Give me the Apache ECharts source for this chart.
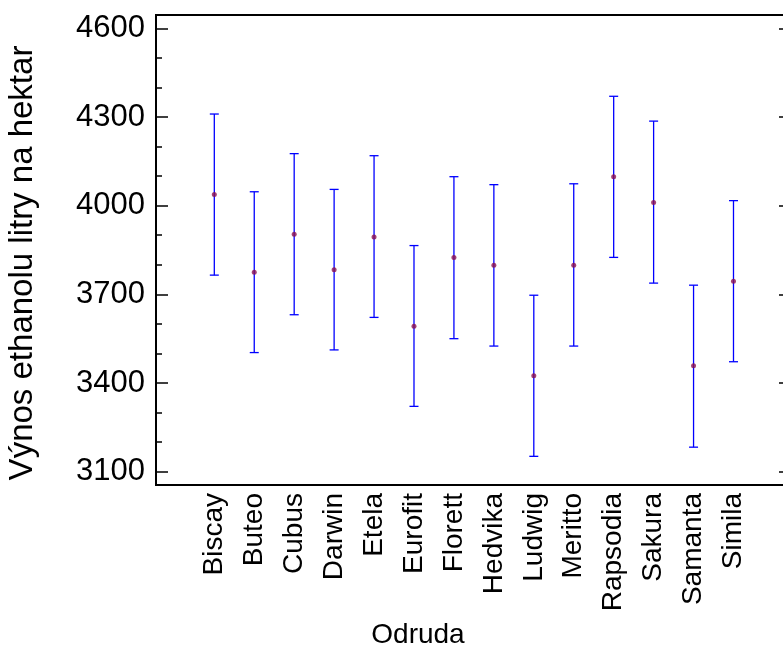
<!DOCTYPE html>
<html><head><meta charset="utf-8">
<script src="https://cdn.jsdelivr.net/npm/echarts@6/dist/echarts.min.js"></script>
<style>html,body{margin:0;padding:0;background:#fff}#c{width:783px;height:648px}</style>
</head><body><div id="c"></div>
<script>
const categories = ['Biscay','Buteo','Cubus','Darwin','Etela','Eurofit','Florett','Hedvika','Ludwig','Meritto','Rapsodia','Sakura','Samanta','Simila'];
const means = [4038,3775,3903,3783,3894,3592,3825,3798,3425,3798,4098,4011,3458,3744];
const lower = [3765,3503,3631,3512,3622,3321,3550,3525,3152,3525,3825,3738,3183,3472];
const upper = [4310,4047,4176,4055,4169,3865,4098,4071,3697,4074,4370,4286,3731,4017];
const majorTicks = [3100,3400,3700,4000,4300,4600];
const minorTicks = [3200,3300,3500,3600,3800,3900,4100,4200,4400,4500];
const xTitle = 'Odruda';
const yTitle = 'Výnos ethanolu litry na hektar';

const FONT = '"Liberation Sans", Arial, sans-serif';
const Y_MIN = 3055, Y_MAX = 4645;
const X_MIN = -1.46, X_MAX = 14.44;

const chart = echarts.init(document.getElementById('c'), null, {renderer: 'canvas'});
const idx = categories.map((c, i) => i);

function yAxisBase(extra) {
  return Object.assign({
    type: 'value', min: Y_MIN, max: Y_MAX,
    axisLine: {show: false, onZero: false}, splitLine: {show: false}
  }, extra);
}

chart.setOption({
  animation: false,
  backgroundColor: '#fff',
  grid: {left: 156, top: 15, right: -8, bottom: 163, show: true,
         borderColor: '#000', borderWidth: 2, outerBoundsMode: 'none', containLabel: false},
  xAxis: {
    type: 'value', min: X_MIN, max: X_MAX,
    axisLine: {show: false, onZero: false}, axisTick: {show: false}, splitLine: {show: false},
    axisLabel: {
      customValues: idx,
      formatter: v => categories[Math.round(v)] || '',
      rotate: 90, margin: 8, fontSize: 28, fontFamily: FONT, color: '#000',
      padding: [0, 0, 18, 0]
    }
  },
  yAxis: [
    yAxisBase({position: 'left',
      axisTick: {inside: true, length: 12, customValues: majorTicks, lineStyle: {color: '#000', width: 1.5}},
      axisLabel: {customValues: majorTicks, formatter: v => String(v), fontSize: 31, margin: 11, color: '#000', fontFamily: FONT}}),
    yAxisBase({position: 'left',
      axisTick: {inside: true, length: 6, customValues: minorTicks, lineStyle: {color: '#000', width: 1.5}},
      axisLabel: {show: false}}),
    yAxisBase({position: 'right',
      axisTick: {inside: true, length: 12, customValues: majorTicks, lineStyle: {color: '#000', width: 1.5}},
      axisLabel: {show: false}})
  ],
  series: [
    {
      type: 'custom',
      xAxisIndex: 0, yAxisIndex: 0,
      data: categories.map((c, i) => [i, lower[i], upper[i]]),
      encode: {x: 0, y: [1, 2]},
      renderItem: function (params, api) {
        const lo = api.coord([api.value(0), api.value(1)]);
        const hi = api.coord([api.value(0), api.value(2)]);
        const hw = 4.5;
        const st = {stroke: '#0000ff', lineWidth: 1.3};
        return {type: 'group', children: [
          {type: 'line', shape: {x1: lo[0], y1: lo[1], x2: hi[0], y2: hi[1]}, style: st},
          {type: 'line', shape: {x1: lo[0] - hw, y1: lo[1], x2: lo[0] + hw, y2: lo[1]}, style: st},
          {type: 'line', shape: {x1: hi[0] - hw, y1: hi[1], x2: hi[0] + hw, y2: hi[1]}, style: st}
        ]};
      },
      z: 2
    },
    {
      type: 'scatter',
      xAxisIndex: 0, yAxisIndex: 0,
      data: means.map((m, i) => [i, m]),
      symbol: 'circle', symbolSize: 5,
      itemStyle: {color: '#8b1050'},
      z: 3
    }
  ],
  graphic: [
    {type: 'text', x: 23, y: 263, rotation: Math.PI / 2,
     style: {text: yTitle, font: '33px ' + FONT, fill: '#000', textAlign: 'center', textVerticalAlign: 'middle'}},
    {type: 'text', x: 418, y: 635,
     style: {text: xTitle, font: '28px ' + FONT, fill: '#000', textAlign: 'center', textVerticalAlign: 'middle'}}
  ]
});
</script>
</body></html>
